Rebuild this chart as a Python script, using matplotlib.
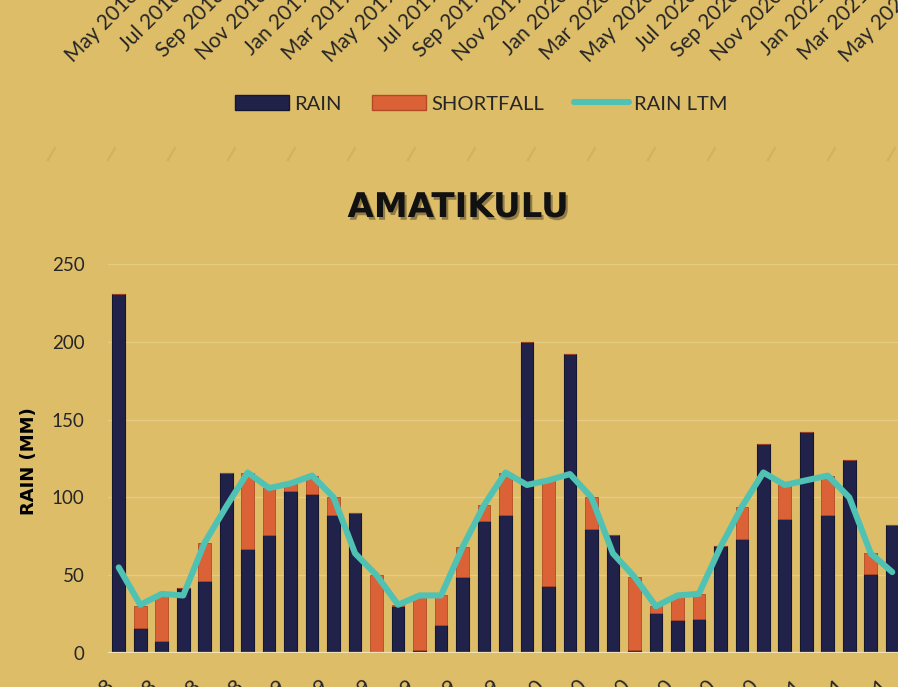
import numpy as np
import pandas as pd
import matplotlib
matplotlib.use("Agg")
import matplotlib.pyplot as plt
import matplotlib.patheffects as pe
from matplotlib.patches import Patch
from matplotlib.lines import Line2D

# --- data ---
months = list(pd.date_range("2018-05-01", periods=37, freq="MS").strftime("%b %Y"))
rain = [231, 16, 8, 42, 46, 116, 67, 76, 104, 102, 89, 90, 0,
        30, 2, 18, 49, 85, 89, 200, 43, 192, 80, 76, 2,
        26, 21, 22, 69, 73, 134, 86, 142, 89, 124, 51, 82]
shortfall = [0, 14, 29, 0, 25, 0, 49, 30, 5, 12, 11, 0, 50,
             1, 35, 19, 19, 10, 27, 0, 68, 0, 20, 0, 47,
             4, 16, 16, 0, 21, 0, 22, 0, 25, 0, 13, 0]
rain_ltm = [55, 31, 38, 37, 71, 94, 116, 106, 109, 114, 100, 64, 50,
            31, 37, 37, 68, 95, 116, 108, 111, 115, 100, 64, 49,
            30, 37, 38, 68, 94, 116, 108, 111, 114, 100, 64, 52]
yticks = [0, 50, 100, 150, 200, 250]

BG = "#DEBD69"
NAVY = "#21224A"
ORANGE = "#DB6237"
TEAL = "#50C2B4"
TXT = "#262626"

plt.rcParams["font.family"] = ["Lato", "DejaVu Sans"]

W, H = 898, 687
fig = plt.figure(figsize=(W / 100, H / 100), dpi=100, facecolor=BG)

# main plot area (right side runs off the crop like the screenshot)
ax = fig.add_axes([108 / W, 34 / H, 795 / W, 389 / H], facecolor=BG)
x = np.arange(len(months))
ax.bar(x, rain, width=0.59, color=NAVY, edgecolor="#15162F", linewidth=0.8, zorder=3)
ax.bar(x, shortfall, width=0.59, bottom=rain, color=ORANGE, edgecolor="#B24A25",
       linewidth=0.6, zorder=3)
ax.plot(x, rain_ltm, color=TEAL, linewidth=4.4, solid_joinstyle="round",
        solid_capstyle="round", zorder=4)

ax.set_xlim(-0.5, len(months) - 0.5)
ax.set_ylim(0, 250)
ax.set_yticks(yticks)
ax.set_yticklabels([str(v) for v in yticks], fontsize=13.5, color=TXT)
ax.yaxis.grid(True, color="#E6CB84", linewidth=1.0, zorder=0)
ax.set_axisbelow(True)
for s in ax.spines.values():
    s.set_visible(False)
ax.axhline(0, color="#F1E3B8", linewidth=1.6, zorder=5)
ax.tick_params(axis="y", length=0, pad=17)
ax.set_xticks(x[::2])
ax.set_xticklabels(months[::2], rotation=45, ha="right", va="top",
                   fontsize=15, color=TXT)
ax.tick_params(axis="x", length=0, pad=17)

fig.text(29 / W, 1 - 461 / H, "RAIN (MM)", rotation=90, ha="center", va="center",
         fontsize=13, fontweight="bold", color="black", family="DejaVu Sans")

fig.text(458 / W, 1 - 217 / H, "AMATIKULU", ha="center", va="baseline",
         fontsize=24.5, fontweight="bold", color="#111111", family="DejaVu Sans",
         path_effects=[pe.SimplePatchShadow(offset=(1.5, -2), alpha=0.35),
                       pe.Normal()])

# legend
handles = [Patch(facecolor=NAVY, edgecolor="#15162F", label="RAIN"),
           Patch(facecolor=ORANGE, edgecolor="#B24A25", label="SHORTFALL"),
           Line2D([0], [0], color=TEAL, linewidth=4.4, solid_capstyle="round",
                  label="RAIN LTM")]
fig.legend(handles=handles, loc="center", bbox_to_anchor=(481 / W, 1 - 104 / H),
           ncol=3, frameon=False, fontsize=14.5, handlelength=2.7, handleheight=0.7,
           handletextpad=0.25, columnspacing=1.5, labelcolor=TXT)

# tick labels of the chart above, cut off by the crop
ax_top = fig.add_axes([132 / W, 1 + 15 / H, 795 / W, 0.001], facecolor="none")
ax_top.set_xlim(-0.5, len(months) - 0.5)
ax_top.set_xticks(x[::2])
ax_top.set_xticklabels(months[::2], rotation=45, ha="right", va="top",
                       fontsize=15, color=TXT)
ax_top.tick_params(axis="x", length=0, pad=0)
ax_top.set_yticks([])
ax_top.set_frame_on(False)

# faint dashed border strokes of the chart area
for xs in np.arange(48, W, 60):
    fig.add_artist(Line2D([xs / W, (xs + 7) / W], [1 - 160 / H, 1 - 148 / H],
                          color="#D3B25E", linewidth=1.6))

fig.savefig("out.png", dpi=100, facecolor=BG)
